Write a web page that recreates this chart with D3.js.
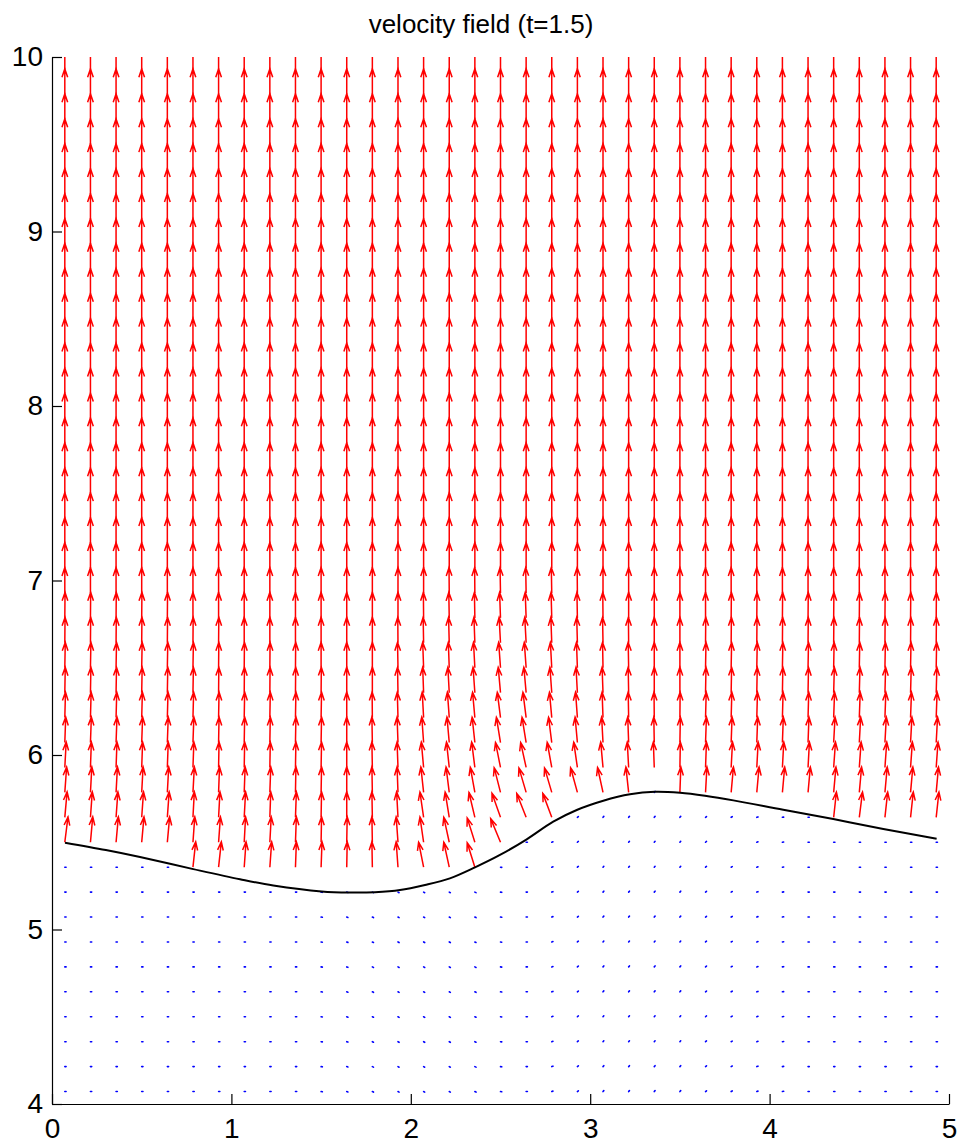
<!DOCTYPE html>
<html>
<head>
<meta charset="utf-8">
<script src="https://cdn.jsdelivr.net/npm/d3@7"></script>
<style>
  html, body { margin: 0; padding: 0; background: #fff; }
  svg { display: block; }
  text { font-family: "Liberation Sans", Arial, Helvetica, sans-serif; fill: #000; }
</style>
</head>
<body>
<script>
// ---------------- data ----------------
const title = "velocity field (t=1.5)";
const xTicks = [0, 1, 2, 3, 4, 5];
const yTicks = [4, 5, 6, 7, 8, 9, 10];

// grid columns (35) and rows (42)
const xGrid = [0.0714, 0.2143, 0.3571, 0.5, 0.6429, 0.7857, 0.9286, 1.0714, 1.2143, 1.3571,
               1.5, 1.6429, 1.7857, 1.9286, 2.0714, 2.2143, 2.3571, 2.5, 2.6429, 2.7857,
               2.9286, 3.0714, 3.2143, 3.3571, 3.5, 3.6429, 3.7857, 3.9286, 4.0714, 4.2143,
               4.3571, 4.5, 4.6429, 4.7857, 4.9286];
const yGrid = [4.0714, 4.2143, 4.3571, 4.5, 4.6429, 4.7857, 4.9286, 5.0714, 5.2143, 5.3571,
               5.5, 5.6429, 5.7857, 5.9286, 6.0714, 6.2143, 6.3571, 6.5, 6.6429, 6.7857,
               6.9286, 7.0714, 7.2143, 7.3571, 7.5, 7.6429, 7.7857, 7.9286, 8.0714, 8.2143,
               8.3571, 8.5, 8.6429, 8.7857, 8.9286, 9.0714, 9.2143, 9.3571, 9.5, 9.6429,
               9.7857, 9.9286];

// first row index (per column) where the upper fluid (red arrows) begins
const firstRedRow = [10, 10, 10, 10, 10, 9, 9, 9, 9, 9,
                     9, 9, 9, 9, 9, 9, 9, 10, 11, 11,
                     12, 12, 12, 13, 12, 12, 12, 12, 12, 12,
                     11, 11, 11, 11, 11];

// tilt of red arrows (degrees from vertical, + = to the right) for rows 9..20; others vertical
const tiltRowStart = 9;
const tiltRows = [
  [0,0,0,0,0, 6,6,4,4,2, 2,1,-1,-4,-11, -12,-17,0,0,0, 0,0,0,0,0, 0,0,0,0,0, 0,0,0,0,0],
  [7,5,5,5,5, 4,4,3,3,2, 1,1,-1,-4,-8, -12,-17,-22,0,0, 0,0,0,0,0, 0,0,0,0,0, 0,0,0,0,0],
  [5,4,4,4,4, 3,3,3,2,2, 1,0,-1,-3,-8, -9,-13,-19,-21,-20, 0,0,0,0,0, 0,0,0,0,0, 6,7,6,6,6],
  [4,3,3,3,3, 3,2,2,2,1, 1,0,-1,-2,-6, -7,-10,-14,-16,-16, -15,-12,-6,0,2, 3,5,5,5,5, 5,5,5,5,5],
  [3,2,2,2,2, 2,1,1,1,1, 1,0,-1,-2,-5, -6,-7,-11,-12,-10, -8,-5,-3,-2,1, 2,3,3,3,3, 4,4,4,4,4],
  [2,2,2,2,2, 2,1,1,1,1, 1,0,-1,-2,-4, -5,-6,-9,-9,-7, -5,-3,-2,-1,1, 2,2,2,2,2, 3,3,3,3,3],
  [1.5,1.5,1.5,1.5,1.5, 1.5,1,1,1,1, 1,0,-0.5,-1.5,-3, -4,-5,-7,-7,-5, -4,-2,-1,-0.5,0.5, 1.5,1.5,1.5,1.5,1.5, 2,2,2,2,2],
  [1,1,1,1,1, 1,0.5,0.5,0.5,0.5, 0.5,0,0,-1,-2, -3,-4,-5,-5,-4, -3,-2,-1,0,0, 1,1,1,1,1, 1.5,1.5,1.5,1.5,1.5],
  [1,1,1,1,1, 1,0.5,0.5,0.5,0.5, 0,0,0,-1,-2, -2,-3,-4,-4,-3, -2,-1,-1,0,0, 1,1,1,1,1, 1,1,1,1,1],
  [0.5,0.5,0.5,0.5,0.5, 0.5,0.5,0,0,0, 0,0,0,-0.5,-1, -1.5,-2,-3,-3,-2, -1.5,-1,-0.5,0,0, 0.5,0.5,0.5,0.5,0.5, 0.5,0.5,0.5,0.5,0.5],
  [0.5,0.5,0.5,0.5,0.5, 0,0,0,0,0, 0,0,0,0,-0.5, -1,-1,-2,-2,-1.5, -1,-0.5,0,0,0, 0,0.5,0.5,0.5,0.5, 0.5,0.5,0.5,0.5,0.5],
  [0,0,0,0,0, 0,0,0,0,0, 0,0,0,0,0, -0.5,-0.5,-1,-1,-1, -0.5,0,0,0,0, 0,0,0,0,0, 0,0,0,0,0]
];
const redSpeed = 0.146;   // arrow length, data units

// direction of the tiny blue arrows (degrees, counter-clockwise from +x), per column
const blueDir = [0,0,0,0,0, 0,0,0,0,0, -10,-20,-25,-30,-30, -30,-25,-10,0,20,
                 40,50,50,50,50, 40,30,20,10,0, 0,0,0,0,0];
const blueSpeed = 0.007;

// interface curve
const curveX = [0.0725, 0.30, 0.4905, 0.7876, 1.048, 1.2336, 1.503, 1.66, 1.80, 1.940,
                2.079, 2.218, 2.358, 2.497, 2.646, 2.794, 2.925, 3.073, 3.222, 3.361,
                3.501, 3.640, 3.798, 4.076, 4.355, 4.634, 4.931];
const curveY = [5.497, 5.455, 5.415, 5.346, 5.288, 5.252, 5.218, 5.212, 5.214, 5.226,
                5.255, 5.293, 5.356, 5.427, 5.517, 5.618, 5.685, 5.738, 5.775, 5.789,
                5.783, 5.766, 5.740, 5.686, 5.633, 5.576, 5.520];

// ---------------- drawing ----------------
const W = 963, H = 1148;
const M = {left: 52, right: 14, top: 57, bottom: 44};
const svg = d3.select("body").append("svg").attr("width", W).attr("height", H);

const x = d3.scaleLinear().domain([0, 5]).range([M.left, W - M.right]);
const y = d3.scaleLinear().domain([4, 10]).range([H - M.bottom, M.top]);

svg.append("defs").append("clipPath").attr("id", "plotclip")
  .append("rect").attr("x", M.left).attr("y", M.top)
  .attr("width", W - M.left - M.right).attr("height", H - M.top - M.bottom);

const plot = svg.append("g").attr("clip-path", "url(#plotclip)");

// build vectors
const reds = [], blues = [];
xGrid.forEach((xv, i) => {
  yGrid.forEach((yv, j) => {
    if (j >= firstRedRow[i]) {
      const r = j - tiltRowStart;
      const t = (r >= 0 && r < tiltRows.length) ? tiltRows[r][i] : 0;
      const a = t * Math.PI / 180;
      reds.push({x: xv, y: yv, u: redSpeed * Math.sin(a), v: redSpeed * Math.cos(a)});
    } else {
      const a = blueDir[i] * Math.PI / 180;
      blues.push({x: xv, y: yv, u: blueSpeed * Math.cos(a), v: blueSpeed * Math.sin(a)});
    }
  });
});

const alpha = 0.33, beta = 0.33;
function quiverPath(d, head) {
  let p = `M${x(d.x)},${y(d.y)}L${x(d.x + d.u)},${y(d.y + d.v)}`;
  if (head) {
    const hx1 = d.x + d.u - alpha * (d.u + beta * d.v);
    const hy1 = d.y + d.v - alpha * (d.v - beta * d.u);
    const hx2 = d.x + d.u - alpha * (d.u - beta * d.v);
    const hy2 = d.y + d.v - alpha * (d.v + beta * d.u);
    p += `M${x(hx1)},${y(hy1)}L${x(d.x + d.u)},${y(d.y + d.v)}L${x(hx2)},${y(hy2)}`;
  }
  return p;
}

plot.append("g").selectAll("path").data(reds).join("path")
  .attr("d", d => quiverPath(d, true))
  .attr("fill", "none").attr("stroke", "#ff0000").attr("stroke-width", 1.5);

plot.append("g").selectAll("path").data(blues).join("path")
  .attr("d", d => quiverPath(d, false))
  .attr("fill", "none").attr("stroke", "#0000ff").attr("stroke-width", 1.6)
  .attr("stroke-linecap", "round");

// interface line
plot.append("path")
  .datum(curveX.map((cx, k) => [cx, curveY[k]]))
  .attr("d", d3.line().x(d => x(d[0])).y(d => y(d[1])).curve(d3.curveCatmullRom.alpha(0.5)))
  .attr("fill", "none").attr("stroke", "#000").attr("stroke-width", 2);

// axes (box off, inward ticks)
const tickLen = 10;
const xAxis = d3.axisBottom(x).tickValues(xTicks).tickFormat(d3.format("d"))
  .tickSizeInner(-tickLen).tickSizeOuter(0);
const gx = svg.append("g").attr("transform", `translate(0,${y(4)})`).call(xAxis);
gx.selectAll("text").attr("font-size", 28).attr("font-family", "Liberation Sans, Arial, sans-serif");

const yAxis = d3.axisLeft(y).tickValues(yTicks).tickFormat(d3.format("d"))
  .tickSizeInner(-tickLen).tickSizeOuter(0).tickPadding(9);
const gy = svg.append("g").attr("transform", `translate(${x(0)},0)`).call(yAxis);
gy.selectAll("text").attr("font-size", 28).attr("font-family", "Liberation Sans, Arial, sans-serif");

[gx, gy].forEach(g => {
  g.select(".domain").attr("stroke", "#000").attr("stroke-width", 1.2);
  g.selectAll(".tick line").attr("stroke", "#000").attr("stroke-width", 1.2);
  g.selectAll(".tick text").attr("fill", "#000");
});
gx.selectAll(".tick text").attr("y", 14).attr("dy", "0.71em");

svg.append("text")
  .attr("x", 481).attr("y", 33)
  .attr("text-anchor", "middle").attr("font-size", 26)
  .text(title);
</script>
</body>
</html>
